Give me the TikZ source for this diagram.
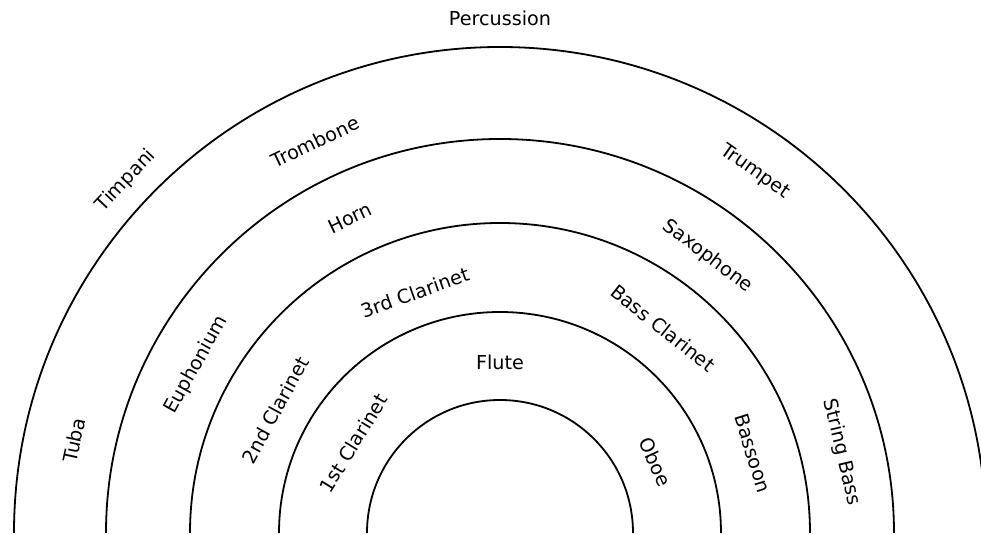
\documentclass[tikz,border=0pt]{standalone}
\usepackage{fontspec}
\setmainfont{DejaVu Sans}
\usepackage{tikz}
\usetikzlibrary{positioning}

\begin{document}
\begin{tikzpicture}[
    x=0.5pt, y=0.5pt,
    font=\fontsize{9.6}{11}\selectfont,
    row/.style={draw=black, line width=0.9pt},
    seat/.style={inner sep=1pt, align=center}
]
\useasboundingbox (0,-2) rectangle (981,533);
\coordinate (c) at (500,0);

% the rows, from the podium outwards
\foreach \r in {133,221,310,394,486}{\draw[row] ([shift={(\r,0)}]c) arc[start angle=0, end angle=180, radius=\r*0.5pt];}

% sections, placed by angle and distance from the podium
\foreach \n/\a/\r/\t in {perc/90/515/Percussion, timp/136.7/514/Timpani,
    tbn/115.3/433/Trombone, tpt/54.8/442/Trumpet, tuba/167.7/436/Tuba,
    hrn/115.5/349/Horn, sax/53.1/346/Saxophone, euph/151/347/Euphonium, sbass/13.3/351/String Bass,
    clthree/109.5/255/3rd Clarinet, bcl/51.5/262/Bass Clarinet, cltwo/151.3/256/2nd Clarinet, bsn/17.5/265/Bassoon,
    fl/90/171/Flute, clone/148.5/172/1st Clarinet, ob/24.5/171/Oboe}{
  \node[seat, rotate=\a-90] (\n) at ([shift={(\a:\r)}]c) {\t};
}
\end{tikzpicture}
\end{document}
